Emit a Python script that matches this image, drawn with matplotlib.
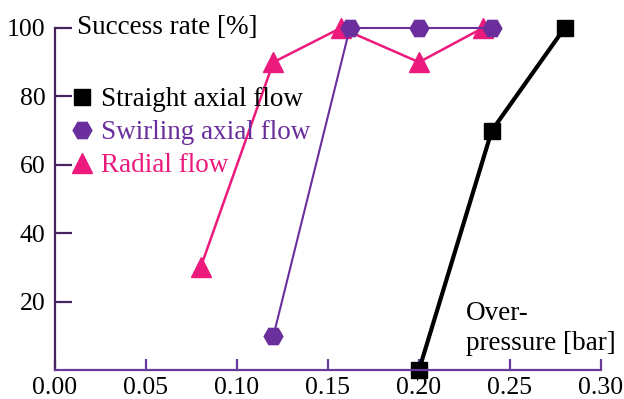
import matplotlib
matplotlib.use("Agg")
import matplotlib.pyplot as plt
from matplotlib.lines import Line2D

plt.rcParams['font.family'] = ['Liberation Serif', 'DejaVu Serif']

straight_x = [0.20, 0.24, 0.28]
straight_y = [0, 70, 100]
swirl_x = [0.12, 0.162, 0.20, 0.24]
swirl_y = [10, 100, 100, 100]
radial_x = [0.08, 0.12, 0.157, 0.20, 0.235]
radial_y = [30, 90, 100, 90, 100]

xticks = [0.00, 0.05, 0.10, 0.15, 0.20, 0.25, 0.30]
xlabels = ["0.00", "0.05", "0.10", "0.15", "0.20", "0.25", "0.30"]
yticks = [20, 40, 60, 80, 100]

BLACK = "#000000"
PURPLE = "#6a2f9c"
PINK = "#ec1a7d"
YSPINE = "#46245f"
XSPINE = "#6a3a9a"

W, H = 624, 399
fig = plt.figure(figsize=(W/100, H/100), dpi=100)
ax = fig.add_axes([55/W, 1 - 370/H, (601-55)/W, (370-28)/H])
ax.set_xlim(0, 0.30)
ax.set_ylim(0, 100)

ax.plot(radial_x, radial_y, color=PINK, lw=1.8, marker='^', ms=15,
        mec=PINK, mfc=PINK, clip_on=False, zorder=2)
ax.plot(swirl_x, swirl_y, color=PURPLE, lw=1.5, marker='H', ms=13.5,
        mec=PURPLE, mfc=PURPLE, clip_on=False, zorder=2.1)
ax.plot(straight_x, straight_y, color=BLACK, lw=3.0, marker='s', ms=12,
        mec=BLACK, mfc=BLACK, clip_on=False, zorder=2)

for s in ['top', 'right']:
    ax.spines[s].set_visible(False)
ax.spines['left'].set_color(YSPINE)
ax.spines['left'].set_linewidth(1.6)
ax.spines['bottom'].set_color(XSPINE)
ax.spines['bottom'].set_linewidth(1.6)
ax.spines['left'].set_zorder(5)
ax.spines['bottom'].set_zorder(5)

ax.set_xticks(xticks)
ax.set_xticklabels(xlabels)
ax.set_yticks(yticks)
ax.tick_params(axis='y', direction='in', length=12, width=1.6, color=YSPINE,
               labelsize=18.5, pad=7)
ax.tick_params(axis='x', direction='in', length=8, width=1.6, color=XSPINE,
               labelsize=18.5, pad=5)

ax.text((77-55)/546*0.30, 100, "Success rate [%]", fontsize=19.5,
        va='center', ha='left')
ax.text((466-55)/546*0.30, (370-328.5)/342*100, "Over-\npressure [bar]",
        fontsize=19.5, va='center', ha='left', linespacing=1.3)

handles = [
    Line2D([], [], color=BLACK, marker='s', ms=12, lw=0),
    Line2D([], [], color=PURPLE, marker='H', ms=13.5, lw=0),
    Line2D([], [], color=PINK, marker='^', ms=15, lw=0),
]
labels = ["Straight axial flow", "Swirling axial flow", "Radial flow"]
leg = ax.legend(handles, labels, loc='upper left',
                bbox_to_anchor=(71/W, 1 - 87/H), bbox_transform=fig.transFigure,
                frameon=False, fontsize=19.5, handlelength=0.8, handletextpad=0.3,
                labelspacing=0.3, borderaxespad=0.0, borderpad=0.0)
for t, c in zip(leg.get_texts(), [BLACK, PURPLE, PINK]):
    t.set_color(c)

fig.savefig("out.png", dpi=100)
